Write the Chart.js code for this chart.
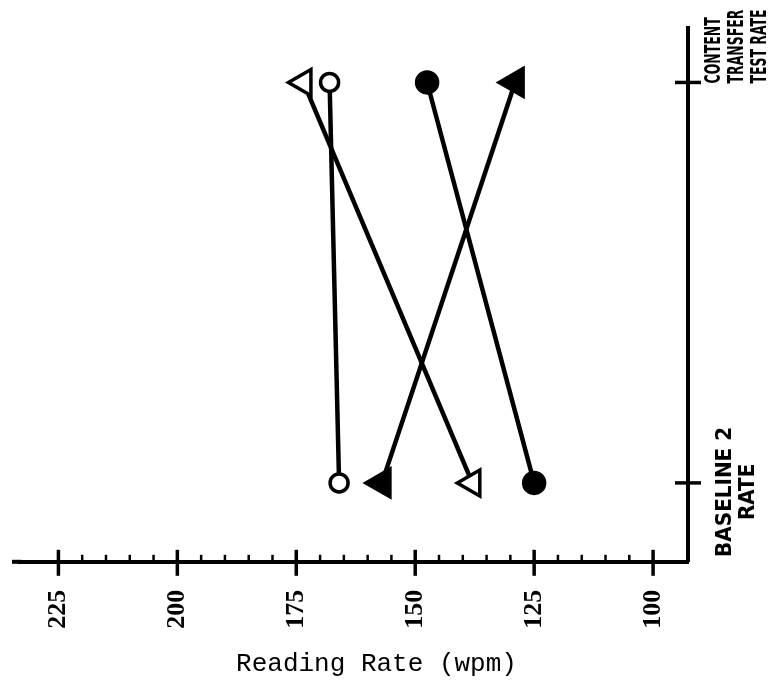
<!DOCTYPE html>
<html>
<head>
<meta charset="utf-8">
<script src="https://cdn.jsdelivr.net/npm/chart.js@4"></script>
<style>
  html, body { margin: 0; padding: 0; background: #fff; }
  #wrap { width: 777px; height: 689px; position: relative; }
</style>
</head>
<body>
<div id="wrap"><canvas id="c" width="777" height="689"></canvas></div>
<script>
// ---- data ----
const categories = [['BASELINE 2', 'RATE'], ['CONTENT', 'TRANSFER', 'TEST RATE']];
const rateTicks = [225, 200, 175, 150, 125, 100];
const openCircle = [166, 168];
const openTriangle = [138, 173.5];
const filledTriangle = [157, 129];
const filledCircle = [125, 147.5];
const axisTitle = 'Reading Rate (wpm)';

function pts(vals) { return vals.map((v, i) => ({ x: v, y: i })); }

// label layout per category (style only)
const labelLayout = [
  { align: 'center', shift: 9, length: 130 },
  { align: 'left', shift: 1, length: 74 }
];

const axisTicksPlugin = {
  id: 'axisTicks',
  afterDraw(chart) {
    const ctx = chart.ctx;
    const xs = chart.scales.x, ys = chart.scales.y;
    const axisY = chart.chartArea.bottom;
    const axisX = chart.chartArea.right;
    ctx.save();
    ctx.strokeStyle = '#000';
    ctx.lineCap = 'butt';
    // small extension of the rate axis to the left edge
    ctx.lineWidth = 4;
    ctx.beginPath(); ctx.moveTo(12, axisY); ctx.lineTo(chart.chartArea.left + 2, axisY); ctx.stroke();
    ctx.lineWidth = 3.5;
    rateTicks.forEach(v => {
      const px = xs.getPixelForValue(v);
      ctx.beginPath(); ctx.moveTo(px, axisY - 12); ctx.lineTo(px, axisY + 14); ctx.stroke();
    });
    ctx.lineWidth = 2.5;
    const lo = Math.min(...rateTicks), hi = Math.max(...rateTicks);
    for (let v = lo + 5; v < hi; v += 5) {
      if (rateTicks.includes(v)) continue;
      const px = xs.getPixelForValue(v);
      ctx.beginPath(); ctx.moveTo(px, axisY - 7); ctx.lineTo(px, axisY); ctx.stroke();
    }
    ctx.lineWidth = 3.5;
    categories.forEach((c, i) => {
      const py = ys.getPixelForValue(i);
      ctx.beginPath(); ctx.moveTo(axisX - 13, py); ctx.lineTo(axisX + 13, py); ctx.stroke();
    });
    ctx.fillStyle = '#000';
    ctx.font = 'bold 22px "DejaVu Sans Condensed", "DejaVu Sans", sans-serif';
    ctx.textBaseline = 'middle';
    const lineGap = 23;
    const centerX = axisX + 49;
    categories.forEach((lines, i) => {
      const py = ys.getPixelForValue(i);
      const lay = labelLayout[i];
      const n = lines.length;
      const widest = Math.max(...lines.map(t => ctx.measureText(t).width));
      const sx = lay.length / widest;
      lines.forEach((t, j) => {
        const cx = centerX + (j - (n - 1) / 2) * lineGap;
        ctx.save();
        ctx.translate(cx, py + lay.shift);
        ctx.rotate(-Math.PI / 2);
        ctx.scale(sx, 1);
        ctx.textAlign = lay.align;
        ctx.fillText(t, 0, 0);
        ctx.restore();
      });
    });
    ctx.restore();
  }
};

const common = { showLine: true, borderColor: '#000', borderWidth: 4.5, pointBorderColor: '#000', pointBorderWidth: 3.5 };

new Chart(document.getElementById('c'), {
  type: 'scatter',
  data: {
    datasets: [
      Object.assign({ label: 'open circle', data: pts(openCircle), pointStyle: 'circle', pointRadius: 9, pointBackgroundColor: '#fff' }, common),
      Object.assign({ label: 'open triangle', data: pts(openTriangle), pointStyle: 'triangle', pointRotation: -90, pointRadius: 15, pointBackgroundColor: '#fff' }, common),
      Object.assign({ label: 'filled triangle', data: pts(filledTriangle), pointStyle: 'triangle', pointRotation: -90, pointRadius: 16, pointBackgroundColor: '#000' }, common),
      Object.assign({ label: 'filled circle', data: pts(filledCircle), pointStyle: 'circle', pointRadius: 10.5, pointBackgroundColor: '#000' }, common)
    ]
  },
  options: {
    responsive: false,
    animation: false,
    layout: { padding: { left: 12, right: 36, top: 28, bottom: 9 } },
    plugins: {
      legend: { display: false },
      tooltip: { enabled: false },
      title: {
        display: true,
        text: axisTitle,
        position: 'bottom',
        color: '#000',
        font: { family: '"Liberation Mono", "DejaVu Sans Mono", monospace', size: 26, weight: 'normal' },
        padding: { top: 7, bottom: 0 }
      }
    },
    scales: {
      x: {
        type: 'linear',
        reverse: true,
        min: 92.66,
        max: 233.18,
        afterBuildTicks: (s) => { s.ticks = rateTicks.map(v => ({ value: v })); },
        afterFit: (s) => { s.height = 80; },
        grid: { display: false, drawTicks: false },
        border: { display: true, color: '#000', width: 4 },
        ticks: {
          color: '#000',
          autoSkip: false,
          minRotation: 90,
          maxRotation: 90,
          padding: 28,
          font: { family: '"Liberation Serif", serif', size: 26, weight: 'bold' },
          callback: (v) => String(v)
        }
      },
      y: {
        type: 'linear',
        position: 'right',
        min: -0.197,
        max: 1.136,
        afterFit: (s) => { s.width = 53; },
        grid: { display: false, drawTicks: false },
        border: { display: true, color: '#000', width: 4 },
        ticks: { display: false }
      }
    }
  },
  plugins: [axisTicksPlugin]
});
</script>
</body>
</html>
